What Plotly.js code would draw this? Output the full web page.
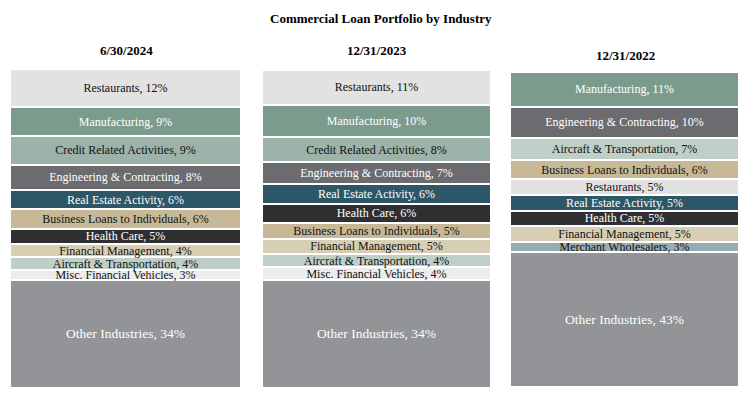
<!DOCTYPE html>
<html>
<head>
<meta charset="utf-8">
<script src="https://cdn.plot.ly/plotly-3.0.1.min.js"></script>
<style>html,body{margin:0;padding:0;background:#fff;}#chart{width:754px;height:394px;}</style>
</head>
<body>
<div id="chart"></div>
<script>
// Data, listed top segment first
var columnTitles = ["6/30/2024", "12/31/2023", "12/31/2022"];

var industries2024 = ["Restaurants", "Manufacturing", "Credit Related Activities", "Engineering & Contracting",
  "Real Estate Activity", "Business Loans to Individuals", "Health Care", "Financial Management",
  "Aircraft & Transportation", "Misc. Financial Vehicles", "Other Industries"];
var values2024 = [12, 9, 9, 8, 6, 6, 5, 4, 4, 3, 34];

var industries2023 = ["Restaurants", "Manufacturing", "Credit Related Activities", "Engineering & Contracting",
  "Real Estate Activity", "Health Care", "Business Loans to Individuals", "Financial Management",
  "Aircraft & Transportation", "Misc. Financial Vehicles", "Other Industries"];
var values2023 = [11, 10, 8, 7, 6, 6, 5, 5, 4, 4, 34];

var industries2022 = ["Manufacturing", "Engineering & Contracting", "Aircraft & Transportation",
  "Business Loans to Individuals", "Restaurants", "Real Estate Activity", "Health Care",
  "Financial Management", "Merchant Wholesalers", "Other Industries"];
var values2022 = [11, 10, 7, 6, 5, 5, 5, 5, 3, 43];

// Styles
var fillColors = {
  "Restaurants": "#e2e2e2",
  "Manufacturing": "#7b9b8d",
  "Credit Related Activities": "#9db3aa",
  "Engineering & Contracting": "#6b6b70",
  "Real Estate Activity": "#2d5666",
  "Business Loans to Individuals": "#c7b998",
  "Health Care": "#2f2f31",
  "Financial Management": "#d8ceb4",
  "Aircraft & Transportation": "#bfcfc7",
  "Misc. Financial Vehicles": "#ececec",
  "Merchant Wholesalers": "#97acb2",
  "Other Industries": "#929497"
};
var whiteText = {"Manufacturing":1, "Engineering & Contracting":1, "Real Estate Activity":1, "Health Care":1, "Other Industries":1};

var H = 394, W = 754;
var columns = [
  {names: industries2024, vals: values2024, xd: [10, 241], yd: [69, 388], title: columnTitles[0], ty: 50, tx: 126},
  {names: industries2023, vals: values2023, xd: [262, 491], yd: [70, 388], title: columnTitles[1], ty: 50, tx: 377},
  {names: industries2022, vals: values2022, xd: [510, 739], yd: [72, 387], title: columnTitles[2], ty: 56, tx: 625}
];

var traces = [];
var layout = {
  width: W, height: H,
  margin: {l: 0, r: 0, t: 0, b: 0},
  paper_bgcolor: "#ffffff", plot_bgcolor: "#ffffff",
  barmode: "stack", bargap: 0, showlegend: false,
  font: {family: "Liberation Serif, Times New Roman, serif", size: 12, color: "#000"},
  annotations: [{
    text: "<b>Commercial Loan Portfolio by Industry</b>", xref: "paper", yref: "paper",
    x: 381 / W, y: 1 - 18 / H, xanchor: "center", yanchor: "middle", showarrow: false,
    font: {family: "Liberation Serif, serif", size: 13, color: "#000"}
  }]
};

columns.forEach(function (col, ci) {
  var sfx = ci === 0 ? "" : String(ci + 1);
  for (var i = col.names.length - 1; i >= 0; i--) {
    var nm = col.names[i];
    traces.push({
      type: "bar", x: [0], y: [col.vals[i]], width: [1],
      xaxis: "x" + sfx, yaxis: "y" + sfx,
      marker: {color: fillColors[nm], line: {color: "#ffffff", width: 2}},
      text: [nm + ", " + col.vals[i] + "%"],
      textposition: "inside", insidetextanchor: "middle", constraintext: "none", textangle: 0,
      textfont: {family: "Liberation Serif, serif", size: nm === "Other Industries" ? 13.5 : 12,
                 color: whiteText[nm] ? "#ffffff" : "#111111"},
      hoverinfo: "skip", cliponaxis: false
    });
  }
  layout["xaxis" + sfx] = {domain: [col.xd[0] / W, col.xd[1] / W], range: [-0.5, 0.5], visible: false, fixedrange: true, anchor: "y" + sfx};
  layout["yaxis" + sfx] = {domain: [1 - col.yd[1] / H, 1 - col.yd[0] / H], range: [0, 100], visible: false, fixedrange: true, anchor: "x" + sfx};
  layout.annotations.push({
    text: "<b>" + col.title + "</b>", xref: "paper", yref: "paper",
    x: col.tx / W, y: 1 - col.ty / H, xanchor: "center", yanchor: "middle", showarrow: false,
    font: {family: "Liberation Serif, serif", size: 13, color: "#000"}
  });
});

Plotly.newPlot("chart", traces, layout, {displayModeBar: false, staticPlot: true});
</script>
</body>
</html>
